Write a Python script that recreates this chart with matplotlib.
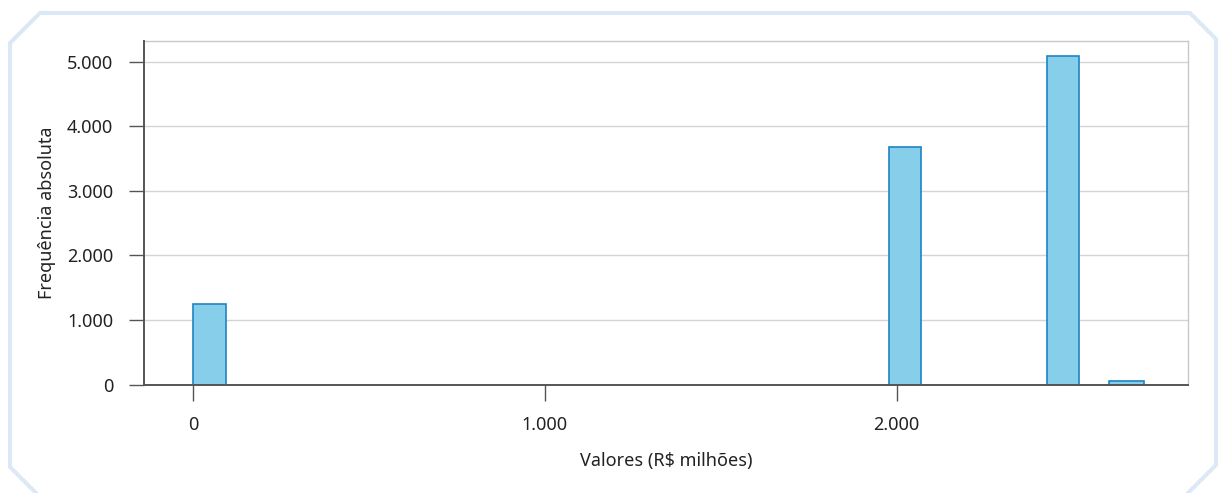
"""
Histograma de valores (R$ milhões) com moldura decorativa.
"""

import matplotlib
matplotlib.use("Agg")
import matplotlib.pyplot as plt
from matplotlib.lines import Line2D
from matplotlib.ticker import FuncFormatter, FixedLocator

# dados
bin_left = [0, 1979, 2426, 2604]
bin_width = [92, 91, 91, 98]
counts = [1255, 3680, 5090, 55]

x_ticks = [0, 1000, 2000]
y_ticks = [0, 1000, 2000, 3000, 4000, 5000]

x_label = "Valores (R$ milhões)"
y_label = "Frequência absoluta"

W, H = 1220, 493

plt.rcParams["font.family"] = ["Noto Sans", "DejaVu Sans"]

fig = plt.figure(figsize=(W / 100, H / 100), dpi=100)
ax = fig.add_axes([144.3 / W, 1 - 384.5 / H, (1188.3 - 144.3) / W, (384.5 - 40.7) / H])


def br_fmt(v, pos=None):
    return f"{int(round(v)):,}".replace(",", ".")


ax.bar(bin_left, counts, width=bin_width, align="edge",
       color="#87ceeb", edgecolor="#1f84c4", linewidth=1.2, zorder=3)

ax.set_xlim(-139, 2829)
ax.set_ylim(0, 5330)
ax.xaxis.set_major_locator(FixedLocator(x_ticks))
ax.yaxis.set_major_locator(FixedLocator(y_ticks))
ax.xaxis.set_major_formatter(FuncFormatter(br_fmt))
ax.yaxis.set_major_formatter(FuncFormatter(br_fmt))

ax.grid(axis="y", color="#d4d4d4", linewidth=1.0, zorder=0)
ax.set_axisbelow(True)

for side in ("top", "right"):
    ax.spines[side].set_color("#c8c8c8")
    ax.spines[side].set_linewidth(1.0)
for side in ("left", "bottom"):
    ax.spines[side].set_color("#555555")
    ax.spines[side].set_linewidth(1.4)
    ax.spines[side].set_zorder(4)

ax.tick_params(axis="x", length=11.5, width=1.0, color="#555555", pad=11,
               labelsize=13, labelcolor="#222222")
ax.tick_params(axis="y", length=10.5, width=1.0, color="#555555", pad=12,
               labelsize=13, labelcolor="#222222")

ax.set_xlabel(x_label, fontsize=13, color="#222222")
ax.xaxis.set_label_coords(0.5, -0.197)
ax.xaxis.label.set_va("top")
ax.set_ylabel(y_label, fontsize=13, color="#222222")
ax.yaxis.label.set_va("center")
ax.yaxis.set_label_coords(-0.0935, 0.5)

# moldura azul clara com cantos chanfrados
frame_px = [(43, 500), (10, 467), (10, 43), (40, 13), (1190, 13),
            (1216, 39), (1216, 465), (1188, 493), (1181, 500)]
fx = [p[0] / W for p in frame_px]
fy = [1 - p[1] / H for p in frame_px]
fig.add_artist(Line2D(fx, fy, color="#dce8f5", linewidth=2.9,
                      solid_joinstyle="miter", transform=fig.transFigure))

fig.savefig("out.png", dpi=100)
